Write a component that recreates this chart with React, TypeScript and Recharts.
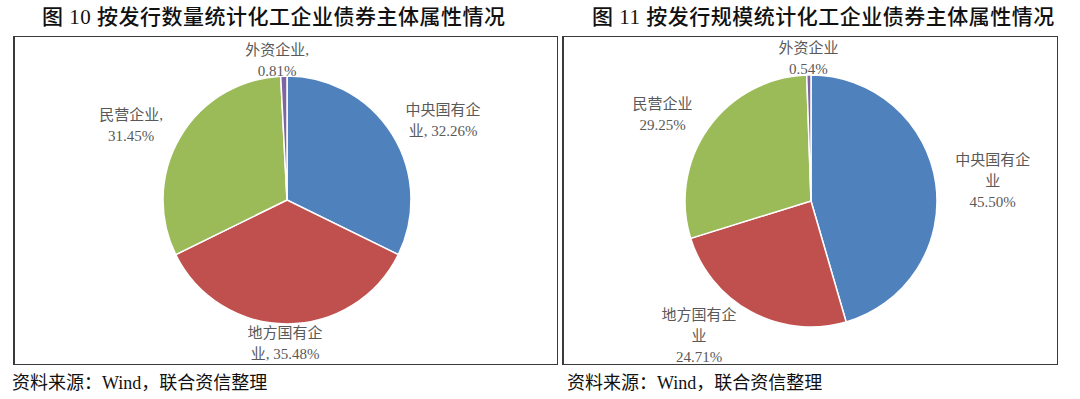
import React from 'react';
import { PieChart, Pie, Cell } from 'recharts';

// slice order: clockwise from 12 o'clock
const categories = ['中央国有企业', '地方国有企业', '民营企业', '外资企业'];
const countShare = [32.26, 35.48, 31.45, 0.81];
const scaleShare = [45.5, 24.71, 29.25, 0.54];

const countLabels = [
  ['中央国有企', '业, 32.26%'],
  ['地方国有企', '业, 35.48%'],
  ['民营企业,', '31.45%'],
  ['外资企业,', '0.81%'],
];
const scaleLabels = [
  ['中央国有企', '业', '45.50%'],
  ['地方国有企', '业', '24.71%'],
  ['民营企业', '29.25%'],
  ['外资企业', '0.54%'],
];

// small hand nudges so labels sit where Excel put them (px)
const countNudge = [[7, 13], [-2, -4], [-7, 12], [-6, 8]];
const scaleNudge = [[6, 4], [-28, -22], [-9, 12], [0, 6]];

const COLORS = ['#4F81BD', '#C0504D', '#9BBB59', '#8064A2'];
const FONT = '"Liberation Serif", "Noto Sans CJK SC", serif';
const LABEL_FS = 15;
const LINE_H = 21;
const RAD = Math.PI / 180;

// rough text width: CJK full em, latin about half
const textW = (s: string) =>
  s.split('').reduce((w, ch) => w + (ch.charCodeAt(0) > 255 ? LABEL_FS : LABEL_FS * 0.5), 0);

const makeLabel = (lines: string[][], nudge: number[][]) => (props: any) => {
  const { cx, cy, midAngle, outerRadius, index } = props;
  const t = lines[index];
  const ux = Math.cos(-midAngle * RAD);
  const uy = Math.sin(-midAngle * RAD);
  const w = Math.max(...t.map(textW));
  const h = t.length * LINE_H;
  const d = outerRadius + 2 + (w / 2 + 8) * Math.abs(ux) + (h / 2) * Math.abs(uy);
  const x = cx + d * ux + nudge[index][0];
  const y = cy + d * uy - h / 2 + nudge[index][1];
  return (
    <text x={x} y={y} textAnchor="middle" fill="#595959" fontSize={LABEL_FS} fontFamily={FONT}>
      {t.map((s, i) => (
        <tspan key={i} x={x} dy={i === 0 ? LINE_H * 0.78 : LINE_H}>{s}</tspan>
      ))}
    </text>
  );
};

function PiePanel({ values, lines, nudge, left, width, cx, cy, r }: any) {
  const data = categories.map((name, i) => ({ name, value: values[i] }));
  const h = 329;
  return (
    <div style={{
      position: 'absolute', left, top: 36, width, height: h,
      border: '1px solid #3a3a3a', borderLeftWidth: 2, boxSizing: 'border-box',
    }}>
      <PieChart width={width - 3} height={h - 2} margin={{ top: 0, right: 0, bottom: 0, left: 0 }}>
        <Pie
          data={data}
          dataKey="value"
          nameKey="name"
          cx={cx}
          cy={cy}
          outerRadius={r}
          startAngle={90}
          endAngle={-270}
          stroke="#fff"
          strokeWidth={1.5}
          label={makeLabel(lines, nudge)}
          labelLine={false}
          isAnimationActive={false}
        >
          {data.map((_, i) => <Cell key={i} fill={COLORS[i]} />)}
        </Pie>
      </PieChart>
    </div>
  );
}

export default function App() {
  const titleStyle: React.CSSProperties = {
    position: 'absolute', top: 5, fontFamily: FONT, fontSize: 21, fontWeight: 500,
    color: '#111', letterSpacing: 0.5, whiteSpace: 'nowrap', lineHeight: '24px',
  };
  const srcStyle: React.CSSProperties = {
    position: 'absolute', top: 371, fontFamily: FONT, fontSize: 18,
    color: '#111', whiteSpace: 'nowrap', lineHeight: '24px',
  };
  return (
    <div style={{ position: 'absolute', left: 0, top: 0, width: 1080, height: 399, background: '#fff' }}>
      <div style={{ ...titleStyle, left: 42 }}>图 10 按发行数量统计化工企业债券主体属性情况</div>
      <div style={{ ...titleStyle, left: 592 }}>图 11 按发行规模统计化工企业债券主体属性情况</div>
      <PiePanel values={countShare} lines={countLabels} nudge={countNudge} left={13} width={545} cx={272} cy={163} r={124} />
      <PiePanel values={scaleShare} lines={scaleLabels} nudge={scaleNudge} left={562} width={496} cx={247} cy={164} r={126} />
      <div style={{ ...srcStyle, left: 12 }}>资料来源：Wind，联合资信整理</div>
      <div style={{ ...srcStyle, left: 567 }}>资料来源：Wind，联合资信整理</div>
    </div>
  );
}
